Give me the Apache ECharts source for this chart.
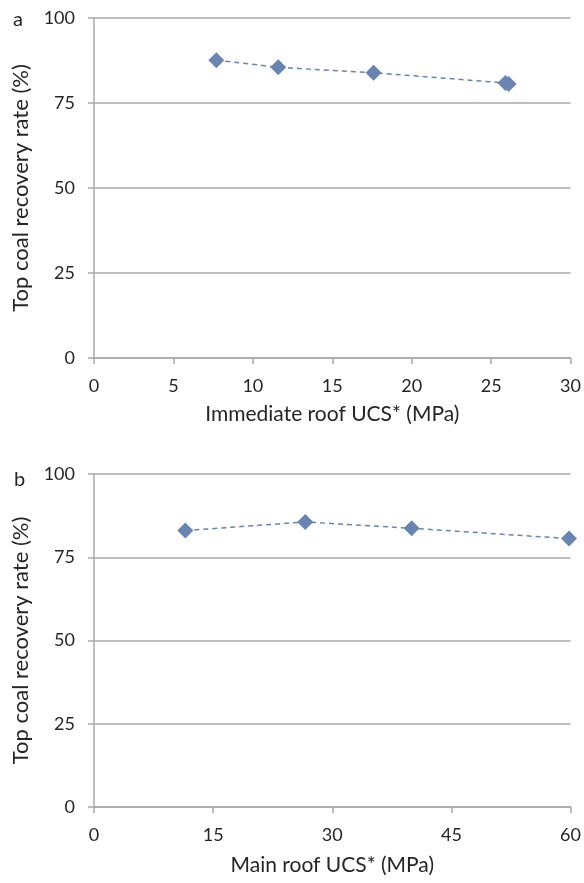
<!DOCTYPE html>
<html>
<head>
<meta charset="utf-8">
<script src="https://cdn.jsdelivr.net/npm/echarts@6/dist/echarts.min.js"></script>
<style>
  html, body { margin: 0; padding: 0; background: #fff; }
  #chart { width: 584px; height: 883px; }
</style>
</head>
<body>
<div id="chart"></div>
<script>
// panel a: immediate roof UCS vs recovery
const immediateUcs = [7.7, 11.6, 17.6, 25.9, 26.1];
const immediateRate = [87.6, 85.5, 83.9, 80.9, 80.6];
// panel b: main roof UCS vs recovery
const mainUcs = [11.5, 26.6, 40.0, 59.8];
const mainRate = [83.0, 85.6, 83.7, 80.6];

const yTicks = [0, 25, 50, 75, 100];
const xTicksA = [0, 5, 10, 15, 20, 25, 30];
const xTicksB = [0, 15, 30, 45, 60];

const blue = "#6785b0";
const grey = "#a9a9a9";
const txt = "#262626";
const font = "Lato";

function xAxis(idx, ticks, title, gap) {
  return {
    type: "value",
    gridIndex: idx,
    min: ticks[0],
    max: ticks[ticks.length - 1],
    interval: ticks[1] - ticks[0],
    name: title,
    nameLocation: "middle",
    nameGap: gap,
    nameTextStyle: { fontFamily: font, fontSize: 21, color: txt },
    axisLine: { show: true, onZero: false, lineStyle: { color: grey, width: 1.5 } },
    axisTick: { show: true, length: 6, lineStyle: { color: grey, width: 1.5 } },
    axisLabel: { fontFamily: font, fontSize: 18, color: txt, margin: 19 },
    splitLine: { show: false }
  };
}

function yAxis(idx) {
  return {
    type: "value",
    gridIndex: idx,
    min: yTicks[0],
    max: yTicks[yTicks.length - 1],
    interval: yTicks[1] - yTicks[0],
    name: "Top coal recovery rate (%)",
    nameLocation: "middle",
    nameRotate: 90,
    nameGap: 62,
    nameTextStyle: { fontFamily: font, fontSize: 22, color: txt },
    axisLine: { show: true, lineStyle: { color: grey, width: 1.5 } },
    axisTick: { show: true, length: 6, lineStyle: { color: grey, width: 1.5 } },
    axisLabel: { fontFamily: font, fontSize: 18, color: txt, margin: 19 },
    splitLine: { show: true, lineStyle: { color: grey, width: 1.5 } }
  };
}

function series(idx, xs, ys) {
  return {
    type: "line",
    xAxisIndex: idx,
    yAxisIndex: idx,
    data: xs.map((x, i) => [x, ys[i]]),
    symbol: "diamond",
    symbolSize: 16,
    itemStyle: { color: blue },
    lineStyle: { color: blue, width: 1.5, type: [5, 4] },
    animation: false
  };
}

const chart = echarts.init(document.getElementById("chart"));
chart.setOption({
  backgroundColor: "#fff",
  animation: false,
  grid: [
    { left: 94, top: 18, width: 477, height: 340 },
    { left: 94, top: 474, width: 478, height: 333 }
  ],
  xAxis: [
    xAxis(0, xTicksA, "Immediate roof UCS* (MPa)", 46),
    xAxis(1, xTicksB, "Main roof UCS* (MPa)", 48)
  ],
  yAxis: [yAxis(0), yAxis(1)],
  series: [
    series(0, immediateUcs, immediateRate),
    series(1, mainUcs, mainRate)
  ],
  graphic: [
    { type: "text", left: 13, top: 10, style: { text: "a", fontFamily: font, fontSize: 20, fill: txt } },
    { type: "text", left: 14, top: 470, style: { text: "b", fontFamily: font, fontSize: 20, fill: txt } }
  ]
});
</script>
</body>
</html>
